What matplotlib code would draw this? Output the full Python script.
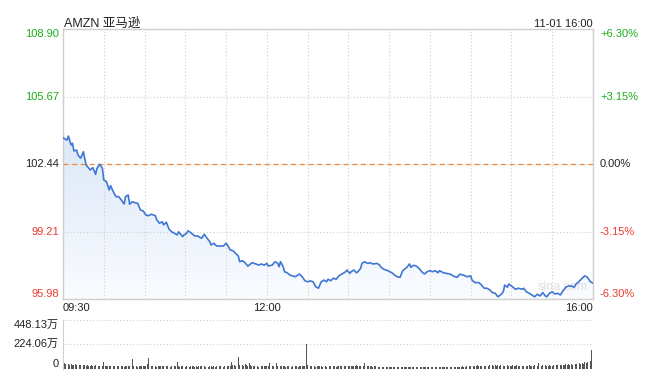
import numpy as np
import matplotlib
matplotlib.use("Agg")
import matplotlib.pyplot as plt
from matplotlib.colors import LinearSegmentedColormap

plt.rcParams['font.family'] = ['Liberation Sans', 'Noto Sans CJK SC', 'DejaVu Sans']

# --- Daten ---
TITLE = "AMZN 亚马逊"
STAMP = "11-01 16:00"
PREV_CLOSE = 102.44
PRICE_TICKS = [95.98, 99.21, 102.44, 105.67, 108.90]
PCT_TICKS = ["-6.30%", "-3.15%", "0.00%", "+3.15%", "+6.30%"]
VOL_TICKS = [0, 224.06, 448.13]
VOL_LABELS = ["0", "224.06万", "448.13万"]
TIME_LABELS = {0: "09:30", 150: "12:00", 390: "16:00"}

minutes = [
    0, 3, 4, 6, 7, 8, 10, 11, 13, 15, 16, 17, 19, 20, 22, 24, 25, 27, 29, 30,
    32, 34, 35, 37, 39, 41, 43, 45, 46, 48, 49, 51, 53, 55, 57, 59, 61, 63, 65, 68,
    69, 71, 73, 74, 76, 78, 80, 82, 84, 85, 86, 88, 89, 91, 92, 94, 97, 99, 102, 104,
    106, 108, 109, 111, 113, 116, 118, 120, 121, 123, 125, 127, 129, 130, 132, 134, 136, 138, 139, 142,
    144, 146, 148, 150, 151, 154, 156, 158, 159, 160, 162, 163, 165, 167, 169, 171, 174, 176, 178, 180,
    182, 184, 186, 188, 189, 190, 192, 194, 195, 197, 199, 201, 203, 204, 206, 208, 209, 211, 212, 214,
    216, 217, 219, 220, 222, 224, 226, 228, 231, 233, 234, 236, 239, 242, 244, 246, 248, 250, 252, 253,
    255, 256, 258, 260, 262, 264, 266, 268, 270, 272, 274, 276, 277, 280, 282, 285, 287, 290, 292, 295,
    297, 300, 301, 303, 306, 308, 310, 312, 314, 316, 318, 320, 322, 324, 325, 327, 328, 330, 333, 335,
    338, 339, 341, 344, 346, 347, 349, 351, 353, 355, 356, 358, 360, 362, 364, 366, 368, 370, 372, 374,
    376, 378, 379, 382, 384, 386, 388, 390,
]
prices = [
    103.71, 103.60, 103.79, 103.36, 103.45, 103.08, 103.12, 102.89, 102.73, 103.04,
    102.73, 102.41, 102.25, 102.17, 102.28, 101.96, 102.25, 102.44, 102.25, 101.69,
    101.61, 101.21, 101.42, 101.13, 100.89, 100.89, 100.73, 100.54, 100.89, 100.97,
    100.53, 100.65, 100.60, 100.57, 100.25, 100.21, 100.01, 99.98, 100.05, 99.98,
    99.78, 99.62, 99.69, 99.54, 99.67, 99.34, 99.21, 99.14, 99.06, 99.21,
    99.14, 98.98, 99.06, 99.14, 99.26, 99.17, 99.01, 99.01, 98.90, 99.09,
    98.90, 98.74, 98.58, 98.66, 98.53, 98.53, 98.53, 98.66, 98.58, 98.34,
    98.31, 98.18, 98.05, 97.78, 97.83, 97.73, 97.57, 97.67, 97.73, 97.67,
    97.62, 97.67, 97.61, 97.70, 97.57, 97.62, 97.78, 97.70, 97.54, 97.78,
    97.54, 97.30, 97.25, 97.14, 97.10, 97.06, 97.19, 97.06, 96.87, 96.82,
    96.86, 96.82, 96.58, 96.51, 96.66, 96.82, 96.90, 96.82, 96.94, 96.87,
    96.99, 96.94, 97.10, 97.14, 97.22, 97.30, 97.38, 97.22, 97.30, 97.38,
    97.25, 97.30, 97.46, 97.70, 97.78, 97.70, 97.73, 97.67, 97.70, 97.62,
    97.51, 97.42, 97.35, 97.25, 97.14, 97.06, 97.03, 97.35, 97.46, 97.51,
    97.67, 97.51, 97.61, 97.57, 97.46, 97.30, 97.19, 97.30, 97.35, 97.30,
    97.35, 97.25, 97.35, 97.25, 97.22, 97.19, 97.10, 97.03, 97.18, 97.13,
    97.06, 97.10, 96.90, 96.78, 96.78, 96.66, 96.51, 96.51, 96.43, 96.30,
    96.27, 96.10, 96.19, 96.34, 96.66, 96.56, 96.71, 96.62, 96.46, 96.51,
    96.46, 96.51, 96.34, 96.23, 96.14, 96.10, 96.22, 96.14, 96.30, 96.14,
    96.10, 96.27, 96.34, 96.23, 96.27, 96.19, 96.39, 96.56, 96.62, 96.62,
    96.56, 96.75, 96.78, 96.99, 97.10, 97.03, 96.82, 96.75,
]

# Umsatz pro Minute (万), 09:30 .. 16:00
volume = [
    143, 55, 48, 42, 50, 38, 45, 40, 36, 44, 39, 35, 42, 37, 33, 40, 36, 31, 38, 34, 30, 36, 33, 29, 35, 31, 28, 34, 30, 32,
    69, 32, 30, 27, 33, 29, 26, 31, 28, 35, 27, 30, 26, 32, 29, 25, 31, 28, 33, 27, 30, 90, 28, 26, 31, 24, 29, 27, 32, 26,
    30, 27, 45, 105, 33, 29, 26, 31, 28, 25, 30, 27, 32, 26, 29, 24, 31, 27, 28, 25, 30, 26, 33, 28, 64, 27, 24, 30, 26, 29,
    25, 31, 27, 24, 29, 26, 32, 25, 28, 23, 30, 26, 27, 24, 31, 25, 28, 22, 29, 26, 24, 30, 25, 27, 23, 28, 26, 31, 24, 27,
    25, 29, 33, 30, 64, 35, 40, 32, 45, 108, 38, 42, 36, 33, 48, 39, 31, 55, 35, 30, 27, 32, 26, 29, 25, 31, 28, 26, 30, 27,
    29, 33, 60, 28, 26, 31, 27, 58, 30, 25, 32, 28, 26, 30, 24, 29, 27, 33, 25, 28, 31, 26, 29, 24, 32, 27, 30, 26, 34, 224,
    36, 30, 27, 33, 28, 31, 25, 29, 26, 32, 28, 24, 30, 27, 25, 31, 26, 29, 23, 28, 30, 25, 27, 32, 26, 29, 24, 31, 27, 25,
    30, 34, 28, 32, 26, 29, 35, 31, 27, 33, 38, 30, 55, 34, 28, 32, 27, 30, 25, 29, 26, 23, 21, 25, 20, 24, 22, 19, 23, 21,
    20, 24, 22, 18, 23, 21, 25, 19, 22, 24, 20, 23, 18, 22, 25, 21, 19, 24, 20, 23, 22, 18, 21, 25, 20, 19, 23, 21, 24, 20,
    22, 19, 24, 21, 18, 23, 20, 25, 22, 19, 21, 24, 20, 23, 18, 22, 25, 21, 19, 24, 22, 20, 23, 21, 26, 22, 24, 27, 25, 28,
    30, 60, 27, 32, 29, 35, 28, 33, 30, 36, 31, 29, 38, 34, 40, 85, 36, 33, 39, 31, 35, 30, 37, 33, 28, 34, 31, 36, 29, 33,
    30, 35, 28, 32, 36, 29, 33, 31, 27, 34, 30, 32, 28, 35, 31, 29, 33, 36, 30, 34, 55, 32, 29, 35, 31, 37, 33, 30, 36, 32,
    34, 38, 31, 36, 40, 33, 37, 42, 35, 39, 44, 38, 46, 41, 48, 43, 50, 45, 52, 47, 55, 49, 58, 52, 62, 56, 68, 60, 75, 176, 448.13,
]

# --- Farben ---
GREEN = '#1aad1a'
RED = '#ee3a2f'
BLACK = '#222222'
GRID = '#cfcfcf'
LINE = '#3f77d2'
ORANGE = '#f0883a'

fig = plt.figure(figsize=(6.46, 3.78), dpi=100)
ax = fig.add_axes([63 / 646, 1 - 299.3 / 378, 530 / 646, 270 / 378])
axv = fig.add_axes([63 / 646, 1 - 369.3 / 378, 530 / 646, 49.8 / 378])

t = np.array(minutes)
p = np.array(prices)
y_lo, y_hi = PRICE_TICKS[0], PRICE_TICKS[-1]

ax.set_xlim(0, 390)
ax.set_ylim(y_lo, y_hi)

# Verlaufsfüllung unter der Kurve
cmap = LinearSegmentedColormap.from_list('fade', ['#fafcff', '#dce7f9'])
grad = np.linspace(0, 1, 256).reshape(-1, 1)
img = ax.imshow(grad, aspect='auto', cmap=cmap, origin='lower',
                extent=[0, 390, y_lo, p.max()], zorder=1)
poly = ax.fill_between(t, p, y_lo, facecolor='none', edgecolor='none')
img.set_clip_path(poly.get_paths()[0], transform=ax.transData)

ax.plot(t, p, color=LINE, lw=1.2, zorder=4)
ax.axhline(PREV_CLOSE, color=ORANGE, lw=0.9, ls=(0, (4, 3)), zorder=3)

# Gitter
ax.set_xticks(range(0, 391, 30))
ax.set_xticklabels([TIME_LABELS.get(m, "") for m in range(0, 391, 30)])
ax.set_yticks(PRICE_TICKS)
ax.grid(True, color=GRID, lw=0.8, ls=(0, (1, 2)), zorder=0)
for s in ax.spines.values():
    s.set_color(GRID)
    s.set_linewidth(1.0)
ax.tick_params(length=0, labelsize=8, colors=BLACK)
ax.tick_params(axis='x', pad=3)
ax.tick_params(axis='y', pad=3)
for lbl in ax.get_xticklabels():
    txt = lbl.get_text()
    if txt == "09:30":
        lbl.set_ha('left')
    elif txt == "16:00":
        lbl.set_ha('right')

colors = [RED, RED, BLACK, GREEN, GREEN]
vas = ['bottom', 'center', 'center', 'center', 'top']
ax.set_yticklabels([f"{v:.2f}" for v in PRICE_TICKS])
for lbl, c, va in zip(ax.get_yticklabels(), colors, vas):
    lbl.set_color(c)
    lbl.set_va(va)

axr = ax.twinx()
axr.set_ylim(y_lo, y_hi)
axr.set_yticks(PRICE_TICKS)
axr.set_yticklabels(PCT_TICKS)
axr.tick_params(length=0, labelsize=8, pad=5)
for s in axr.spines.values():
    s.set_visible(False)
for lbl, c, va in zip(axr.get_yticklabels(), colors, vas):
    lbl.set_color(c)
    lbl.set_va(va)

ax.text(0.002, 1.0096, TITLE, transform=ax.transAxes, ha='left', va='baseline',
        fontsize=9, color=BLACK)
ax.text(1.0, 1.0096, STAMP, transform=ax.transAxes, ha='right', va='baseline',
        fontsize=8, color=BLACK)
ax.text(0.942, 0.022, "sina.com", transform=ax.transAxes, ha='center', va='bottom',
        fontsize=9, color='#dddddd', zorder=2)

# --- Umsatz ---
axv.bar(np.arange(len(volume)), volume, width=0.6, color='#555555', zorder=2)
axv.set_xlim(0, 390)
axv.set_ylim(0, VOL_TICKS[-1])
axv.set_xticks([])
axv.set_yticks(VOL_TICKS)
axv.set_yticklabels(VOL_LABELS)
axv.tick_params(length=0, labelsize=8, pad=3, colors=BLACK)
for lbl, va in zip(axv.get_yticklabels(), ['bottom', 'center', 'top']):
    lbl.set_va(va)
for name, s in axv.spines.items():
    s.set_visible(name == 'left')
    s.set_color(GRID)
for v in VOL_TICKS[1:]:
    axv.axhline(v, color=GRID, lw=0.8, ls=(0, (1, 2)), zorder=0)

fig.savefig("out.png", dpi=100)
